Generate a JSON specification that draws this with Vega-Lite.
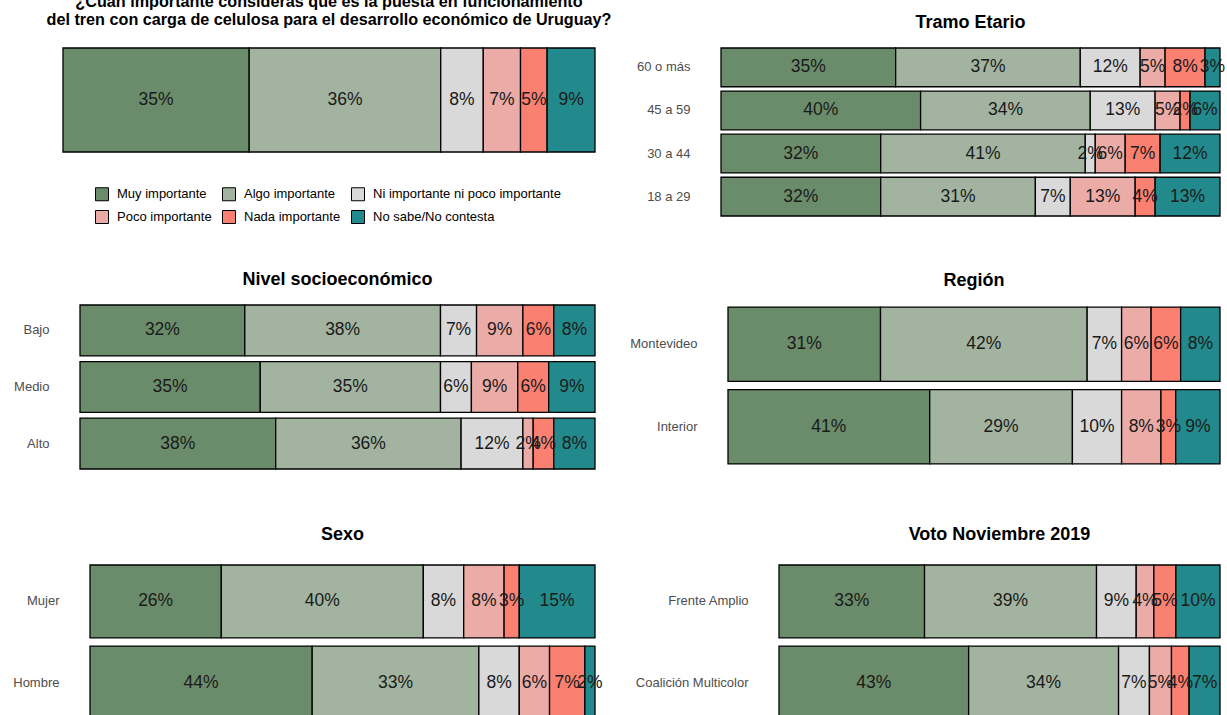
{
  "$schema": "https://vega.github.io/schema/vega-lite/v6.json",
  "background": "white",
  "padding": {"left": 0, "top": -7, "right": 0, "bottom": 0},
  "config": {
    "font": "Liberation Sans",
    "view": {"stroke": null},
    "axisY": {"ticks": false, "domain": false, "grid": false, "labelPadding": 31, "labelFontSize": 13, "labelColor": "#4d4d4d", "labelFont": "Liberation Sans"},
    "title": {"font": "Liberation Sans", "fontSize": 18, "fontWeight": "bold", "color": "black", "anchor": "middle", "frame": "group"},
    "legend": {"labelFont": "Liberation Sans"}
  },
  "datasets": {
    "d": [
      {"panel": "total", "g": "Total", "c": "Muy importante", "o": 1, "p": 0.35},
      {"panel": "total", "g": "Total", "c": "Algo importante", "o": 2, "p": 0.36},
      {"panel": "total", "g": "Total", "c": "Ni importante ni poco importante", "o": 3, "p": 0.08},
      {"panel": "total", "g": "Total", "c": "Poco importante", "o": 4, "p": 0.07},
      {"panel": "total", "g": "Total", "c": "Nada importante", "o": 5, "p": 0.05},
      {"panel": "total", "g": "Total", "c": "No sabe/No contesta", "o": 6, "p": 0.09},

      {"panel": "edad", "g": "60 o más", "c": "Muy importante", "o": 1, "p": 0.35},
      {"panel": "edad", "g": "60 o más", "c": "Algo importante", "o": 2, "p": 0.37},
      {"panel": "edad", "g": "60 o más", "c": "Ni importante ni poco importante", "o": 3, "p": 0.12},
      {"panel": "edad", "g": "60 o más", "c": "Poco importante", "o": 4, "p": 0.05},
      {"panel": "edad", "g": "60 o más", "c": "Nada importante", "o": 5, "p": 0.08},
      {"panel": "edad", "g": "60 o más", "c": "No sabe/No contesta", "o": 6, "p": 0.03},
      {"panel": "edad", "g": "45 a 59", "c": "Muy importante", "o": 1, "p": 0.40},
      {"panel": "edad", "g": "45 a 59", "c": "Algo importante", "o": 2, "p": 0.34},
      {"panel": "edad", "g": "45 a 59", "c": "Ni importante ni poco importante", "o": 3, "p": 0.13},
      {"panel": "edad", "g": "45 a 59", "c": "Poco importante", "o": 4, "p": 0.05},
      {"panel": "edad", "g": "45 a 59", "c": "Nada importante", "o": 5, "p": 0.02},
      {"panel": "edad", "g": "45 a 59", "c": "No sabe/No contesta", "o": 6, "p": 0.06},
      {"panel": "edad", "g": "30 a 44", "c": "Muy importante", "o": 1, "p": 0.32},
      {"panel": "edad", "g": "30 a 44", "c": "Algo importante", "o": 2, "p": 0.41},
      {"panel": "edad", "g": "30 a 44", "c": "Ni importante ni poco importante", "o": 3, "p": 0.02},
      {"panel": "edad", "g": "30 a 44", "c": "Poco importante", "o": 4, "p": 0.06},
      {"panel": "edad", "g": "30 a 44", "c": "Nada importante", "o": 5, "p": 0.07},
      {"panel": "edad", "g": "30 a 44", "c": "No sabe/No contesta", "o": 6, "p": 0.12},
      {"panel": "edad", "g": "18 a 29", "c": "Muy importante", "o": 1, "p": 0.32},
      {"panel": "edad", "g": "18 a 29", "c": "Algo importante", "o": 2, "p": 0.31},
      {"panel": "edad", "g": "18 a 29", "c": "Ni importante ni poco importante", "o": 3, "p": 0.07},
      {"panel": "edad", "g": "18 a 29", "c": "Poco importante", "o": 4, "p": 0.13},
      {"panel": "edad", "g": "18 a 29", "c": "Nada importante", "o": 5, "p": 0.04},
      {"panel": "edad", "g": "18 a 29", "c": "No sabe/No contesta", "o": 6, "p": 0.13},

      {"panel": "nse", "g": "Bajo", "c": "Muy importante", "o": 1, "p": 0.32},
      {"panel": "nse", "g": "Bajo", "c": "Algo importante", "o": 2, "p": 0.38},
      {"panel": "nse", "g": "Bajo", "c": "Ni importante ni poco importante", "o": 3, "p": 0.07},
      {"panel": "nse", "g": "Bajo", "c": "Poco importante", "o": 4, "p": 0.09},
      {"panel": "nse", "g": "Bajo", "c": "Nada importante", "o": 5, "p": 0.06},
      {"panel": "nse", "g": "Bajo", "c": "No sabe/No contesta", "o": 6, "p": 0.08},
      {"panel": "nse", "g": "Medio", "c": "Muy importante", "o": 1, "p": 0.35},
      {"panel": "nse", "g": "Medio", "c": "Algo importante", "o": 2, "p": 0.35},
      {"panel": "nse", "g": "Medio", "c": "Ni importante ni poco importante", "o": 3, "p": 0.06},
      {"panel": "nse", "g": "Medio", "c": "Poco importante", "o": 4, "p": 0.09},
      {"panel": "nse", "g": "Medio", "c": "Nada importante", "o": 5, "p": 0.06},
      {"panel": "nse", "g": "Medio", "c": "No sabe/No contesta", "o": 6, "p": 0.09},
      {"panel": "nse", "g": "Alto", "c": "Muy importante", "o": 1, "p": 0.38},
      {"panel": "nse", "g": "Alto", "c": "Algo importante", "o": 2, "p": 0.36},
      {"panel": "nse", "g": "Alto", "c": "Ni importante ni poco importante", "o": 3, "p": 0.12},
      {"panel": "nse", "g": "Alto", "c": "Poco importante", "o": 4, "p": 0.02},
      {"panel": "nse", "g": "Alto", "c": "Nada importante", "o": 5, "p": 0.04},
      {"panel": "nse", "g": "Alto", "c": "No sabe/No contesta", "o": 6, "p": 0.08},

      {"panel": "region", "g": "Montevideo", "c": "Muy importante", "o": 1, "p": 0.31},
      {"panel": "region", "g": "Montevideo", "c": "Algo importante", "o": 2, "p": 0.42},
      {"panel": "region", "g": "Montevideo", "c": "Ni importante ni poco importante", "o": 3, "p": 0.07},
      {"panel": "region", "g": "Montevideo", "c": "Poco importante", "o": 4, "p": 0.06},
      {"panel": "region", "g": "Montevideo", "c": "Nada importante", "o": 5, "p": 0.06},
      {"panel": "region", "g": "Montevideo", "c": "No sabe/No contesta", "o": 6, "p": 0.08},
      {"panel": "region", "g": "Interior", "c": "Muy importante", "o": 1, "p": 0.41},
      {"panel": "region", "g": "Interior", "c": "Algo importante", "o": 2, "p": 0.29},
      {"panel": "region", "g": "Interior", "c": "Ni importante ni poco importante", "o": 3, "p": 0.10},
      {"panel": "region", "g": "Interior", "c": "Poco importante", "o": 4, "p": 0.08},
      {"panel": "region", "g": "Interior", "c": "Nada importante", "o": 5, "p": 0.03},
      {"panel": "region", "g": "Interior", "c": "No sabe/No contesta", "o": 6, "p": 0.09},

      {"panel": "sexo", "g": "Mujer", "c": "Muy importante", "o": 1, "p": 0.26},
      {"panel": "sexo", "g": "Mujer", "c": "Algo importante", "o": 2, "p": 0.40},
      {"panel": "sexo", "g": "Mujer", "c": "Ni importante ni poco importante", "o": 3, "p": 0.08},
      {"panel": "sexo", "g": "Mujer", "c": "Poco importante", "o": 4, "p": 0.08},
      {"panel": "sexo", "g": "Mujer", "c": "Nada importante", "o": 5, "p": 0.03},
      {"panel": "sexo", "g": "Mujer", "c": "No sabe/No contesta", "o": 6, "p": 0.15},
      {"panel": "sexo", "g": "Hombre", "c": "Muy importante", "o": 1, "p": 0.44},
      {"panel": "sexo", "g": "Hombre", "c": "Algo importante", "o": 2, "p": 0.33},
      {"panel": "sexo", "g": "Hombre", "c": "Ni importante ni poco importante", "o": 3, "p": 0.08},
      {"panel": "sexo", "g": "Hombre", "c": "Poco importante", "o": 4, "p": 0.06},
      {"panel": "sexo", "g": "Hombre", "c": "Nada importante", "o": 5, "p": 0.07},
      {"panel": "sexo", "g": "Hombre", "c": "No sabe/No contesta", "o": 6, "p": 0.02},

      {"panel": "voto", "g": "Frente Amplio", "c": "Muy importante", "o": 1, "p": 0.33},
      {"panel": "voto", "g": "Frente Amplio", "c": "Algo importante", "o": 2, "p": 0.39},
      {"panel": "voto", "g": "Frente Amplio", "c": "Ni importante ni poco importante", "o": 3, "p": 0.09},
      {"panel": "voto", "g": "Frente Amplio", "c": "Poco importante", "o": 4, "p": 0.04},
      {"panel": "voto", "g": "Frente Amplio", "c": "Nada importante", "o": 5, "p": 0.05},
      {"panel": "voto", "g": "Frente Amplio", "c": "No sabe/No contesta", "o": 6, "p": 0.10},
      {"panel": "voto", "g": "Coalición Multicolor", "c": "Muy importante", "o": 1, "p": 0.43},
      {"panel": "voto", "g": "Coalición Multicolor", "c": "Algo importante", "o": 2, "p": 0.34},
      {"panel": "voto", "g": "Coalición Multicolor", "c": "Ni importante ni poco importante", "o": 3, "p": 0.07},
      {"panel": "voto", "g": "Coalición Multicolor", "c": "Poco importante", "o": 4, "p": 0.05},
      {"panel": "voto", "g": "Coalición Multicolor", "c": "Nada importante", "o": 5, "p": 0.04},
      {"panel": "voto", "g": "Coalición Multicolor", "c": "No sabe/No contesta", "o": 6, "p": 0.07}
    ]
  },
  "resolve": {"scale": {"x": "independent", "y": "independent"}, "legend": {"color": "independent"}},
  "spacing": 10,
  "vconcat": [
    {
      "spacing": 0,
      "resolve": {"scale": {"x": "independent", "y": "independent"}, "legend": {"color": "independent"}},
      "hconcat": [
        {"width": 1, "height": 212, "data": {"values": []}, "mark": "point", "encoding": {}},
        {
          "width": 532, "height": 104,
          "title": {"text": ["¿Cuán importante consideras que es la puesta en funcionamiento", "del tren con carga de celulosa para el desarrollo económico de Uruguay?"], "fontSize": 16.2, "lineHeight": 18, "offset": 19.6},
          "data": {"name": "d"},
          "transform": [{"filter": "datum.panel === 'total'"}],
          "encoding": {
            "y": {"field": "g", "type": "nominal", "sort": null, "title": null, "scale": {"paddingInner": 0, "paddingOuter": 0}, "axis": {"labels": false, "minExtent": 62, "maxExtent": 62}},
            "x": {"field": "p", "type": "quantitative", "stack": "normalize", "axis": null},
            "order": {"field": "o", "type": "quantitative"}
          },
          "layer": [
            {"mark": {"type": "bar", "stroke": "black", "strokeWidth": 1.3},
             "encoding": {"color": {"field": "c", "type": "nominal",
               "scale": {"domain": ["Muy importante", "Algo importante", "Ni importante ni poco importante", "Poco importante", "Nada importante", "No sabe/No contesta"], "range": ["#6b8c6a", "#a2b4a0", "#d9d9d9", "#ebaba6", "#fa8072", "#228a8c"]},
               "legend": {"orient": "none", "legendX": 32, "legendY": 139, "direction": "horizontal", "columns": 3, "title": null, "symbolType": "square", "symbolSize": 169, "symbolStrokeColor": "black", "symbolStrokeWidth": 1, "symbolOpacity": 1, "labelFontSize": 13, "labelColor": "black", "labelOffset": 8, "labelLimit": 400, "columnPadding": 8, "rowPadding": 5}}}},
            {"mark": {"type": "text", "fontSize": 17.5, "color": "#1a1a1a"},
             "encoding": {"x": {"field": "p", "type": "quantitative", "stack": "normalize", "bandPosition": 0.5, "axis": null}, "detail": {"field": "c"}, "text": {"field": "p", "format": ".0%"}}}
          ]
        },
        {
          "width": 499, "height": 168,
          "title": {"text": "Tramo Etario", "offset": 15},
          "data": {"name": "d"},
          "transform": [{"filter": "datum.panel === 'edad'"}],
          "encoding": {
            "y": {"field": "g", "type": "nominal", "sort": null, "title": null, "scale": {"paddingInner": 0.1, "paddingOuter": 0}, "axis": {"minExtent": 109, "maxExtent": 109}},
            "x": {"field": "p", "type": "quantitative", "stack": "normalize", "axis": null},
            "order": {"field": "o", "type": "quantitative"}
          },
          "layer": [
            {"mark": {"type": "bar", "stroke": "black", "strokeWidth": 1.3},
             "encoding": {"color": {"field": "c", "type": "nominal", "scale": {"domain": ["Muy importante", "Algo importante", "Ni importante ni poco importante", "Poco importante", "Nada importante", "No sabe/No contesta"], "range": ["#6b8c6a", "#a2b4a0", "#d9d9d9", "#ebaba6", "#fa8072", "#228a8c"]}, "legend": null}}},
            {"mark": {"type": "text", "fontSize": 17.5, "color": "#1a1a1a"},
             "encoding": {"x": {"field": "p", "type": "quantitative", "stack": "normalize", "bandPosition": 0.5, "axis": null}, "detail": {"field": "c"}, "text": {"field": "p", "format": ".0%"}}}
          ]
        }
      ]
    },
    {
      "spacing": 0,
      "resolve": {"scale": {"x": "independent", "y": "independent"}, "legend": {"color": "independent"}},
      "hconcat": [
        {"width": 1, "height": 211, "data": {"values": []}, "mark": "point", "encoding": {}},
        {
          "width": 515, "height": 164,
          "title": {"text": "Nivel socioeconómico", "offset": 15.5},
          "data": {"name": "d"},
          "transform": [{"filter": "datum.panel === 'nse'"}],
          "encoding": {
            "y": {"field": "g", "type": "nominal", "sort": null, "title": null, "scale": {"paddingInner": 0.1, "paddingOuter": 0}, "axis": {"minExtent": 79, "maxExtent": 79}},
            "x": {"field": "p", "type": "quantitative", "stack": "normalize", "axis": null},
            "order": {"field": "o", "type": "quantitative"}
          },
          "layer": [
            {"mark": {"type": "bar", "stroke": "black", "strokeWidth": 1.3},
             "encoding": {"color": {"field": "c", "type": "nominal", "scale": {"domain": ["Muy importante", "Algo importante", "Ni importante ni poco importante", "Poco importante", "Nada importante", "No sabe/No contesta"], "range": ["#6b8c6a", "#a2b4a0", "#d9d9d9", "#ebaba6", "#fa8072", "#228a8c"]}, "legend": null}}},
            {"mark": {"type": "text", "fontSize": 17.5, "color": "#1a1a1a"},
             "encoding": {"x": {"field": "p", "type": "quantitative", "stack": "normalize", "bandPosition": 0.5, "axis": null}, "detail": {"field": "c"}, "text": {"field": "p", "format": ".0%"}}}
          ]
        },
        {
          "width": 492, "height": 161,
          "title": {"text": "Región", "offset": 15.5},
          "data": {"name": "d"},
          "transform": [{"filter": "datum.panel === 'region'"}],
          "encoding": {
            "y": {"field": "g", "type": "nominal", "sort": null, "title": null, "scale": {"paddingInner": 0.1, "paddingOuter": 0.025}, "axis": {"minExtent": 132, "maxExtent": 132}},
            "x": {"field": "p", "type": "quantitative", "stack": "normalize", "axis": null},
            "order": {"field": "o", "type": "quantitative"}
          },
          "layer": [
            {"mark": {"type": "bar", "stroke": "black", "strokeWidth": 1.3},
             "encoding": {"color": {"field": "c", "type": "nominal", "scale": {"domain": ["Muy importante", "Algo importante", "Ni importante ni poco importante", "Poco importante", "Nada importante", "No sabe/No contesta"], "range": ["#6b8c6a", "#a2b4a0", "#d9d9d9", "#ebaba6", "#fa8072", "#228a8c"]}, "legend": null}}},
            {"mark": {"type": "text", "fontSize": 17.5, "color": "#1a1a1a"},
             "encoding": {"x": {"field": "p", "type": "quantitative", "stack": "normalize", "bandPosition": 0.5, "axis": null}, "detail": {"field": "c"}, "text": {"field": "p", "format": ".0%"}}}
          ]
        }
      ]
    },
    {
      "spacing": 0,
      "resolve": {"scale": {"x": "independent", "y": "independent"}, "legend": {"color": "independent"}},
      "hconcat": [
        {"width": 1, "height": 1, "data": {"values": []}, "mark": "point", "encoding": {}},
        {
          "width": 505, "height": 154,
          "title": {"text": "Sexo", "offset": 20},
          "data": {"name": "d"},
          "transform": [{"filter": "datum.panel === 'sexo'"}],
          "encoding": {
            "y": {"field": "g", "type": "nominal", "sort": null, "title": null, "scale": {"paddingInner": 0.1, "paddingOuter": 0}, "axis": {"minExtent": 89, "maxExtent": 89}},
            "x": {"field": "p", "type": "quantitative", "stack": "normalize", "axis": null},
            "order": {"field": "o", "type": "quantitative"}
          },
          "layer": [
            {"mark": {"type": "bar", "stroke": "black", "strokeWidth": 1.3},
             "encoding": {"color": {"field": "c", "type": "nominal", "scale": {"domain": ["Muy importante", "Algo importante", "Ni importante ni poco importante", "Poco importante", "Nada importante", "No sabe/No contesta"], "range": ["#6b8c6a", "#a2b4a0", "#d9d9d9", "#ebaba6", "#fa8072", "#228a8c"]}, "legend": null}}},
            {"mark": {"type": "text", "fontSize": 17.5, "color": "#1a1a1a"},
             "encoding": {"x": {"field": "p", "type": "quantitative", "stack": "normalize", "bandPosition": 0.5, "axis": null}, "detail": {"field": "c"}, "text": {"field": "p", "format": ".0%"}}}
          ]
        },
        {
          "width": 441, "height": 154,
          "title": {"text": "Voto Noviembre 2019", "offset": 20},
          "data": {"name": "d"},
          "transform": [{"filter": "datum.panel === 'voto'"}],
          "encoding": {
            "y": {"field": "g", "type": "nominal", "sort": null, "title": null, "scale": {"paddingInner": 0.1, "paddingOuter": 0}, "axis": {"minExtent": 176, "maxExtent": 176}},
            "x": {"field": "p", "type": "quantitative", "stack": "normalize", "axis": null},
            "order": {"field": "o", "type": "quantitative"}
          },
          "layer": [
            {"mark": {"type": "bar", "stroke": "black", "strokeWidth": 1.3},
             "encoding": {"color": {"field": "c", "type": "nominal", "scale": {"domain": ["Muy importante", "Algo importante", "Ni importante ni poco importante", "Poco importante", "Nada importante", "No sabe/No contesta"], "range": ["#6b8c6a", "#a2b4a0", "#d9d9d9", "#ebaba6", "#fa8072", "#228a8c"]}, "legend": null}}},
            {"mark": {"type": "text", "fontSize": 17.5, "color": "#1a1a1a"},
             "encoding": {"x": {"field": "p", "type": "quantitative", "stack": "normalize", "bandPosition": 0.5, "axis": null}, "detail": {"field": "c"}, "text": {"field": "p", "format": ".0%"}}}
          ]
        }
      ]
    }
  ]
}
